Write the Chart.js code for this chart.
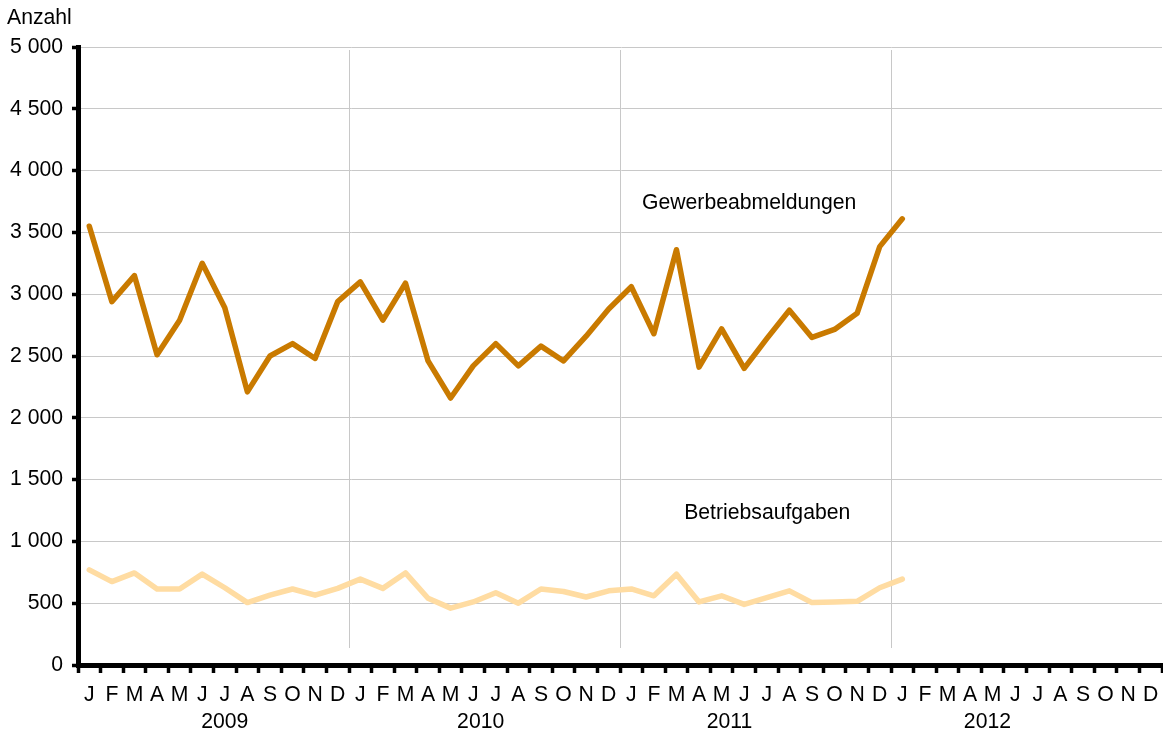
<!DOCTYPE html>
<html>
<head>
<meta charset="utf-8">
<script src="https://cdn.jsdelivr.net/npm/chart.js@4/dist/chart.umd.min.js"></script>
<style>
  html, body { margin: 0; padding: 0; background: #fff; }
  #wrap { width: 1163px; height: 735px; }
</style>
</head>
<body>
<div id="wrap"><canvas id="c" width="1163" height="735"></canvas></div>
<script>
// ---- data ----
const monthLetters = ['J','F','M','A','M','J','J','A','S','O','N','D'];
const years = ['2009','2010','2011','2012'];
const categories = years.flatMap(() => monthLetters);
const yTicks = [0, 500, 1000, 1500, 2000, 2500, 3000, 3500, 4000, 4500, 5000];

const gewerbeabmeldungen = [
  3550, 2940, 3150, 2510, 2790, 3250, 2890, 2210, 2500, 2600, 2480, 2940,
  3100, 2790, 3090, 2460, 2160, 2420, 2600, 2420, 2580, 2460, 2660, 2880,
  3060, 2680, 3360, 2410, 2720, 2400, 2640, 2870, 2650, 2715, 2845, 3385,
  3610
];
const betriebsaufgaben = [
  770, 675, 745, 615, 615, 735, 625, 505, 565, 615, 565, 620,
  695, 620, 745, 540, 460, 510, 585, 500, 615, 595, 550, 600,
  615, 560, 735, 510, 560, 490, 545, 600, 505, 510, 515, 625,
  695
];
const seriesNames = ['Gewerbeabmeldungen', 'Betriebsaufgaben'];

// ---- styles ----
const FONT = '"Liberation Sans", Arial, sans-serif';
const FS = 21.2;
const DARK = '#C97A00';
const LIGHT = '#FFDCA2';
const GRID = '#c8c8c8';

function fmt(v) { return String(v).replace(/\B(?=(\d{3})+(?!\d))/g, ' '); }

const decor = {
  id: 'decor',
  beforeDatasetsDraw(chart) {
    const { ctx, chartArea, scales } = chart;
    const x = scales.x;
    ctx.save();
    ctx.strokeStyle = GRID;
    ctx.lineWidth = 1;
    for (let k = 12; k < categories.length; k += 12) {
      const px = Math.round((x.getPixelForValue(k - 1) + x.getPixelForValue(k)) / 2) + 0.5;
      ctx.beginPath();
      ctx.moveTo(px, chartArea.top + 3);
      ctx.lineTo(px, chartArea.bottom - 17);
      ctx.stroke();
    }
    ctx.restore();
  },
  afterDraw(chart) {
    const { ctx, scales } = chart;
    const x = scales.x, y = scales.y;
    ctx.save();
    ctx.fillStyle = '#000';
    ctx.font = FS + 'px ' + FONT;
    ctx.textBaseline = 'middle';
    // axis title
    ctx.textAlign = 'left';
    ctx.fillText('Anzahl', 7, 18);
    // year labels
    ctx.textAlign = 'center';
    const yearPos = [6.0, 17.33, 28.35, 39.77];
    years.forEach((yr, i) => {
      ctx.fillText(yr, x.getPixelForValue(yearPos[i]), 722);
    });
    // series labels
    const lab = [
      { t: seriesNames[0], xi: 29.22, yv: 3738 },
      { t: seriesNames[1], xi: 30.02, yv: 1230 }
    ];
    lab.forEach(l => ctx.fillText(l.t, x.getPixelForValue(l.xi), y.getPixelForValue(l.yv)));
    ctx.restore();
  }
};

new Chart(document.getElementById('c'), {
  type: 'line',
  data: {
    labels: categories,
    datasets: [
      {
        label: seriesNames[0],
        data: gewerbeabmeldungen,
        borderColor: DARK,
        borderWidth: 5.5,
        pointRadius: 0,
        tension: 0,
        borderJoinStyle: 'round',
        borderCapStyle: 'round'
      },
      {
        label: seriesNames[1],
        data: betriebsaufgaben,
        borderColor: LIGHT,
        borderWidth: 5.5,
        pointRadius: 0,
        tension: 0,
        borderJoinStyle: 'round',
        borderCapStyle: 'round'
      }
    ]
  },
  options: {
    responsive: false,
    animation: false,
    events: [],
    layout: { padding: { top: 47, right: 1, left: 0, bottom: 0 } },
    plugins: { legend: { display: false }, tooltip: { enabled: false } },
    scales: {
      x: {
        type: 'category',
        offset: true,
        afterFit(s) { s.height = 70; s.paddingLeft = 0; s.paddingRight = 0; },
        border: { display: true, color: '#000', width: 5 },
        grid: {
          drawOnChartArea: false,
          drawTicks: true,
          offset: true,
          tickLength: 8,
          tickWidth: 3.5,
          tickColor: '#000'
        },
        ticks: {
          autoSkip: false,
          maxRotation: 0,
          minRotation: 0,
          padding: 9,
          color: '#000',
          font: { family: FONT, size: FS }
        }
      },
      y: {
        min: 0,
        max: 5000,
        afterFit(s) { s.width = 78; },
        afterBuildTicks(s) { s.ticks = yTicks.map(v => ({ value: v })); },
        border: { display: true, color: '#000', width: 5 },
        grid: {
          color: GRID,
          lineWidth: 1,
          tickLength: 6,
          tickWidth: 3.5,
          tickColor: '#000'
        },
        ticks: {
          padding: 9,
          color: '#000',
          font: { family: FONT, size: FS },
          callback: v => fmt(v)
        }
      }
    }
  },
  plugins: [decor]
});
</script>
</body>
</html>
